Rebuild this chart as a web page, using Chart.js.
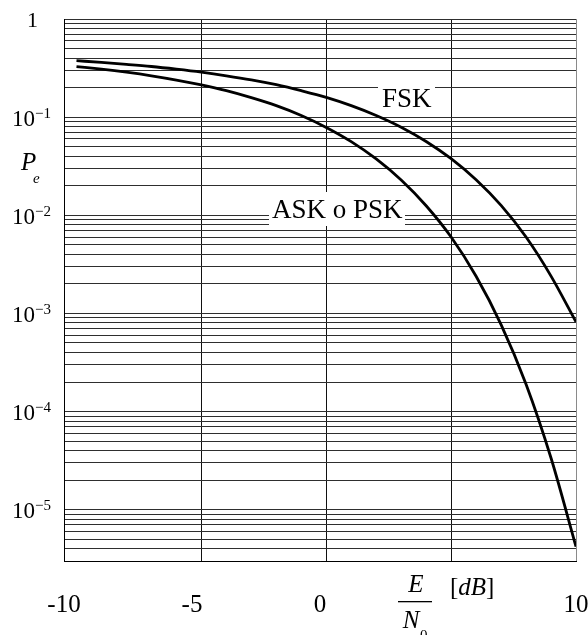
<!DOCTYPE html>
<html><head><meta charset="utf-8">
<script src="https://cdn.jsdelivr.net/npm/chart.js@4/dist/chart.umd.min.js"></script>
<style>html,body{margin:0;padding:0;background:#fff;}canvas{display:block;}
.pre{font-family:"Liberation Serif";position:absolute;left:-1000px;top:0;}</style>
</head><body>
<span class="pre">10 FSK</span><span class="pre" style="font-style:italic">PEN dB</span>
<canvas id="c" width="588" height="635"></canvas>
<script>
// ---- data ----
const snrDb = [-10,-9,-8,-7,-6,-5,-4,-3,-2,-1,0,1,2,3,4,5,6,7,8,9,10];
const fskPe = [0.376,0.361,0.345,0.328,0.308,0.287,0.264,0.240,0.214,0.186,0.159,0.131,0.104,0.079,0.0565,0.0377,0.0230,0.0126,0.0060,0.0024,0.00082];
const askPskPe = [0.327,0.308,0.287,0.264,0.239,0.213,0.186,0.158,0.131,0.104,0.0786,0.0563,0.0375,0.0229,0.0125,0.0060,0.00239,0.00077,0.00019,0.0000336,0.0000042];

const xGridLines = [-10.5, -5, 0, 5, 10];
const xTickValues = [-10, -5, 0, 10];
const xTickLabels = ['-10', '-5', '0', '10'];
const yDecades = [1, 1e-1, 1e-2, 1e-3, 1e-4, 1e-5];
const yDecadeExps = ['', '\u22121', '\u22122', '\u22123', '\u22124', '\u22125'];
const yMinorMultipliers = [1,2,3,4,5,6,7,8,9];
const Y_MIN = 3e-6, Y_MAX = 1;

const serif = '"Liberation Serif", serif';

const yGridValues = [];
for (let e = -6; e <= 0; e++) {
  for (const m of yMinorMultipliers) {
    const v = m * Math.pow(10, e);
    if (v >= Y_MIN * 0.999 && v <= Y_MAX * 1.001) yGridValues.push(v);
  }
}

const textPlugin = {
  id: 'texts',
  beforeDatasetsDraw(chart) {
    const ctx = chart.ctx;
    ctx.save();
    ctx.fillStyle = '#fff';
    ctx.fillRect(378, 85, 57, 31);
    ctx.fillRect(269, 192, 136, 34);
    ctx.fillStyle = '#000';
    ctx.font = '27px ' + serif;
    ctx.textBaseline = 'alphabetic';
    ctx.textAlign = 'left';
    ctx.fillText('FSK', 382, 107);
    ctx.fillText('ASK o PSK', 272, 218);
    ctx.restore();
  },
  afterDraw(chart) {
    const ctx = chart.ctx;
    ctx.save();
    ctx.fillStyle = '#000';
    ctx.textBaseline = 'alphabetic';
    // y labels
    const ys = chart.scales.y;
    yDecades.forEach((v, i) => {
      const py = ys.getPixelForValue(v);
      if (yDecadeExps[i] === '') {
        ctx.font = '22px ' + serif; ctx.textAlign = 'center';
        ctx.fillText('1', 32.5, py + 8.3);
      } else {
        ctx.font = '23px ' + serif; ctx.textAlign = 'left';
        ctx.fillText('10', 12, py + 8.5);
        ctx.font = '15px ' + serif;
        ctx.fillText(yDecadeExps[i], 35, py + 0.5);
      }
    });
    // x labels
    const xl = chart.scales.xl;
    ctx.font = '25px ' + serif; ctx.textAlign = 'center';
    xTickValues.forEach((v, i) => ctx.fillText(xTickLabels[i], xl.getPixelForValue(v), 612));
    // y title P_e
    ctx.textAlign = 'left';
    ctx.font = 'italic 25px ' + serif;
    ctx.fillText('P', 21, 170);
    ctx.font = 'italic 15px ' + serif;
    ctx.fillText('e', 33, 183);
    // x title E/N0 [dB]
    ctx.font = 'italic 25px ' + serif; ctx.textAlign = 'center';
    ctx.fillText('E', 416, 592);
    ctx.fillRect(398, 601, 34, 1.3);
    ctx.fillText('N', 411, 628);
    ctx.font = '15px ' + serif; ctx.textAlign = 'left';
    ctx.fillText('0', 420, 640);
    ctx.font = '25px ' + serif;
    let px = 450;
    ctx.fillText('[', px, 595); px += ctx.measureText('[').width;
    ctx.font = 'italic 25px ' + serif;
    ctx.fillText('dB', px, 595); px += ctx.measureText('dB').width;
    ctx.font = '25px ' + serif;
    ctx.fillText(']', px, 595);
    ctx.restore();
  }
};

function build() {
  new Chart(document.getElementById('c'), {
    type: 'line',
    data: {
      datasets: [
        { label: 'FSK', data: snrDb.map((x, i) => ({ x, y: fskPe[i] })),
          borderColor: '#000', borderWidth: 2.8, pointRadius: 0, fill: false,
          cubicInterpolationMode: 'monotone', xAxisID: 'x', yAxisID: 'y' },
        { label: 'ASK o PSK', data: snrDb.map((x, i) => ({ x, y: askPskPe[i] })),
          borderColor: '#000', borderWidth: 2.8, pointRadius: 0, fill: false,
          cubicInterpolationMode: 'monotone', xAxisID: 'x', yAxisID: 'y' }
      ]
    },
    options: {
      responsive: false,
      animation: false,
      devicePixelRatio: 1,
      layout: { padding: { left: 0, right: 12, top: 19, bottom: 0 } },
      plugins: { legend: { display: false }, tooltip: { enabled: false } },
      scales: {
        x: {
          type: 'linear', position: 'bottom', min: -10.5, max: 10,
          afterBuildTicks: s => { s.ticks = xGridLines.map(v => ({ value: v })); },
          afterFit: s => { s.height = 74; },
          ticks: { display: false },
          grid: { drawTicks: false, lineWidth: 1,
            color: c => (c.tick && c.tick.value === 10) ? '#8a8a8a' : '#111' },
          border: { display: true, color: '#000', width: 1 }
        },
        xl: {
          type: 'linear', axis: 'x', position: 'bottom', min: -10, max: 10, display: false
        },
        y: {
          type: 'logarithmic', position: 'left', min: Y_MIN, max: Y_MAX,
          afterBuildTicks: s => { s.ticks = yGridValues.map(v => ({ value: v })); },
          afterFit: s => { s.width = 64; },
          ticks: { display: false },
          grid: { drawTicks: false, lineWidth: 1, color: '#2e2e2e' },
          border: { display: true, color: '#000', width: 1 }
        }
      }
    },
    plugins: [textPlugin]
  });
}

const loads = document.fonts ? Promise.all([
  document.fonts.load('25px "Liberation Serif"'),
  document.fonts.load('italic 25px "Liberation Serif"')
]).catch(() => null) : Promise.resolve();
loads.then(build, build);
</script>
</body></html>
